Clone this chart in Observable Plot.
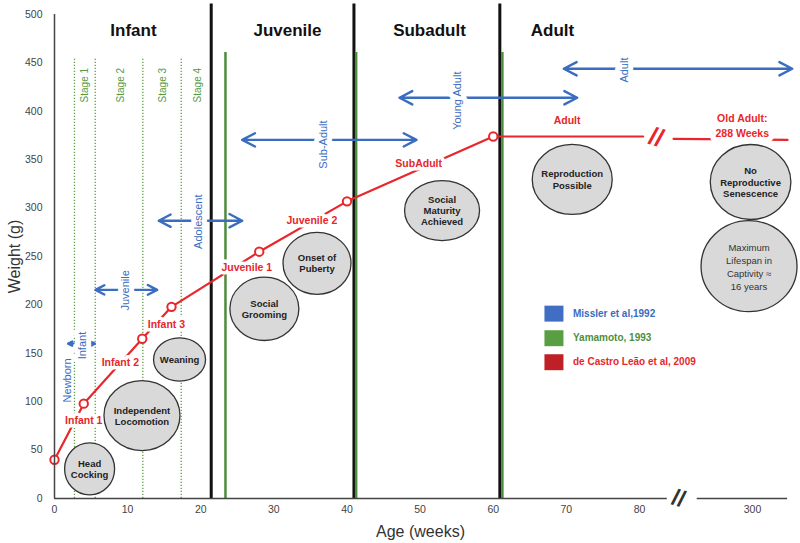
<!DOCTYPE html>
<html><head><meta charset="utf-8">
<script src="https://cdn.jsdelivr.net/npm/d3@7"></script>
<script src="https://cdn.jsdelivr.net/npm/@observablehq/plot@0.6"></script>
<style>body{margin:0;background:#fff}</style>
</head><body><div id="chart"></div>
<script>
// ---------- data ----------
const xTicks = [0, 10, 20, 30, 40, 50, 60, 70, 80, 300];
const yTicks = [0, 50, 100, 150, 200, 250, 300, 350, 400, 450, 500];

const phaseNames = ["Infant", "Juvenile", "Subadult", "Adult"];
const phaseWeeks = [10.8, 31.86, 51.28, 68.1];
const phaseBoundaryWeeks = [21.43, 40.95, 60.9];

// Yamamoto, 1993
const yamamotoBoundaryWeeks = [23.38, 41.25, 61.25];
const stageBoundaryWeeks = [2.73, 5.57, 12.08, 17.33];
const stageNames = ["Stage 1", "Stage 2", "Stage 3", "Stage 4"];
const stageLabelWeeks = [4.1, 9.03, 14.77, 19.56];

// Missler et al, 1992
const misslerLabels = ["Infant", "Juvenile", "Adolescent", "Sub-Adult", "Young Adult", "Adult"];
const misslerStart = [1.87, 5.6, 14.26, 25.67, 47.18, 69.65];
const misslerEnd = [5.51, 14.04, 25.67, 49.5, 71.48, 346.4];
const misslerWeight = [160, 215.5, 287, 370.5, 414, 444];
const misslerLabelWeek = [3.79, 9.71, 19.73, 36.83, 55.07, 77.95];
const misslerLabelWeight = [158, 215, 286, 365.7, 411, 442.6];
const newbornLabel = ["Newborn"];
const newbornWeek = [1.74];
const newbornWeight = [122];

// de Castro Leão et al, 2009
const castroWeeks = [0, 4, 12, 16, 28, 40, 60];
const castroWeights = [40, 98, 165, 198, 255, 307, 374];
const adultWeeks = [60, 80.5];
const adultWeights = [374, 374];
const oldAdultWeeks = [207.6, 341];
const oldAdultWeights = [371.6, 370.6];
const castroLabels = ["Infant 1", "Infant 2", "Infant 3", "Juvenile 1", "Juvenile 2", "SubAdult", "Adult"];
const castroLabelWeeks = [4.0, 9.0, 15.3, 26.3, 35.2, 49.8, 70.1];
const castroLabelWeights = [80, 140, 180, 239, 287, 346, 390.5];
const oldAdultLabel = ["Old Adult:\n288 Weeks"];
const oldAdultLabelWeek = [288];
const oldAdultLabelWeight = [386];

// milestones
const milestoneLabels = ["Head\nCocking", "Independent\nLocomotion", "Weaning", "Social\nGrooming", "Onset of\nPuberty",
  "Social\nMaturity\nAchieved", "Reproduction\nPossible", "No\nReproductive\nSenescence", "Maximum\nLifespan in\nCaptivity \u2248\n16 years"];
const milestoneWeeks = [4.8, 11.96, 17.1, 28.7, 35.9, 53.0, 70.8, 297.7, 295.9];
const milestoneWeights = [30.6, 85.7, 143.6, 196, 243, 297.5, 329.6, 327, 240];

// legend
const sourceNames = ["Missler et al,1992", "Yamamoto, 1993", "de Castro Le\u00e3o et al, 2009"];
const legendWeights = [191, 165.6, 140.8];

// ---------- styles ----------
const font = "'Liberation Sans', Arial, Helvetica, sans-serif";
const blue = "#3a6cc0", green = "#4d8b3d", greenDot = "#5fa046", red = "#e8262b";
const squareColors = ["#3f6ec2", "#5a9e43", "#be2026"];
const textColors = [blue, "#4e8f3a", red];
const milestoneRx = [25, 38, 26, 34.5, 34, 37.5, 40, 40.3, 48];
const milestoneRy = [26, 35, 21.7, 31.7, 31, 30, 35, 37.5, 45.5];

const ellipseSymbol = k => ({
  draw(ctx, size) {
    const rx = Math.sqrt(size / Math.PI), ry = rx * k, c = 0.5523;
    ctx.moveTo(rx, 0);
    ctx.bezierCurveTo(rx, ry * c, rx * c, ry, 0, ry);
    ctx.bezierCurveTo(-rx * c, ry, -rx, ry * c, -rx, 0);
    ctx.bezierCurveTo(-rx, -ry * c, -rx * c, -ry, 0, -ry);
    ctx.bezierCurveTo(rx * c, -ry, rx, -ry * c, rx, 0);
    ctx.closePath();
  }
});
const rectSymbol = {
  draw(ctx, size) {
    const r = Math.sqrt(size / Math.PI);
    ctx.rect(-r, -r * 0.84, 2 * r, 2 * r * 0.84);
  }
};

const idx = a => a.map((_, i) => i);

const marks = [
  // Yamamoto stage dotted lines
  Plot.ruleX(stageBoundaryWeeks, {x: d => d, y1: 0, y2: 455.6, stroke: greenDot, strokeWidth: 1.3, strokeDasharray: "1.3,1.7"}),
  // phase boundaries
  Plot.ruleX(phaseBoundaryWeeks, {x: d => d, y1: 0, y2: 511, stroke: "#111", strokeWidth: 3}),
  Plot.ruleX(yamamotoBoundaryWeeks, {x: d => d, y1: 0, y2: 460.7, stroke: green, strokeWidth: 2.5}),
  Plot.text(stageNames, {x: (d, i) => stageLabelWeeks[i], y: () => 427, text: d => d, rotate: -90, fill: "#569a3f", fontSize: 10}),
  Plot.text(phaseNames, {x: (d, i) => phaseWeeks[i], y: () => 483, text: d => d, fontSize: 17, fontWeight: "bold", fill: "#111"}),

  // Missler arrows
  Plot.arrow(idx(misslerLabels), {x1: i => misslerLabelWeek[i], x2: i => misslerStart[i], y1: i => misslerWeight[i], y2: i => misslerWeight[i],
    stroke: blue, strokeWidth: 2.4, headLength: 9, headAngle: 55}),
  Plot.arrow(idx(misslerLabels), {x1: i => misslerLabelWeek[i], x2: i => misslerEnd[i], y1: i => misslerWeight[i], y2: i => misslerWeight[i],
    stroke: blue, strokeWidth: 2.4, headLength: 9, headAngle: 55}),
  Plot.text(misslerLabels, {x: (d, i) => misslerLabelWeek[i], y: (d, i) => misslerLabelWeight[i], text: d => d, rotate: -90,
    fill: blue, fontSize: 11, stroke: "white", strokeWidth: 10}),
  Plot.text(newbornLabel, {x: (d, i) => newbornWeek[i], y: (d, i) => newbornWeight[i], text: d => d, rotate: -90, fill: blue, fontSize: 11}),

  // de Castro Leão trajectory
  Plot.line(idx(castroWeeks), {x: i => castroWeeks[i], y: i => castroWeights[i], stroke: red, strokeWidth: 2.2}),
  Plot.line(idx(adultWeeks), {x: i => adultWeeks[i], y: i => adultWeights[i], stroke: red, strokeWidth: 2.2}),
  Plot.line(idx(oldAdultWeeks), {x: i => oldAdultWeeks[i], y: i => oldAdultWeights[i], stroke: red, strokeWidth: 2.2}),
  Plot.text(["//"], {x: () => 82.3, y: () => 373, text: d => d, fill: red, fontSize: 25, fontWeight: "bold", rotate: 18}),
  Plot.text(castroLabels, {x: (d, i) => castroLabelWeeks[i], y: (d, i) => castroLabelWeights[i], text: d => d,
    fill: red, fontSize: 10.5, fontWeight: "bold", stroke: "white", strokeWidth: 7}),
  Plot.text(oldAdultLabel, {x: (d, i) => oldAdultLabelWeek[i], y: (d, i) => oldAdultLabelWeight[i], text: d => d,
    fill: red, fontSize: 10.5, fontWeight: "bold", lineHeight: 1.4, stroke: "white", strokeWidth: 11}),
  Plot.dot(idx(castroWeeks), {x: i => castroWeeks[i], y: i => castroWeights[i], r: 4.2, stroke: red, strokeWidth: 2, fill: "white"}),

  // milestone ellipses
  ...milestoneLabels.map((m, i) => Plot.dot([i], {x: j => milestoneWeeks[j], y: j => milestoneWeights[j], r: milestoneRx[i],
    symbol: ellipseSymbol(milestoneRy[i] / milestoneRx[i]), fill: "#d9d9d9", stroke: "#333", strokeWidth: 1.3})),
  Plot.text(idx(milestoneLabels).slice(0, 8), {x: i => milestoneWeeks[i], y: i => milestoneWeights[i], text: i => milestoneLabels[i],
    fontSize: 9.5, fontWeight: "bold", fill: "#222", lineHeight: 1.18}),
  Plot.text([8], {x: i => milestoneWeeks[i], y: i => milestoneWeights[i], text: i => milestoneLabels[i],
    fontSize: 9.5, fill: "#333", lineHeight: 1.38}),

  // legend
  ...sourceNames.map((s, i) => Plot.dot([i], {x: () => 68.3, y: j => legendWeights[j], r: 9.5, symbol: rectSymbol, fill: squareColors[i]})),
  ...sourceNames.map((s, i) => Plot.text([i], {x: () => 70.9, y: j => legendWeights[j], text: j => sourceNames[j], textAnchor: "start",
    fill: textColors[i], fontSize: 10, fontWeight: "bold"})),

  // axes
  Plot.ruleX([0], {x: d => d, y1: 0, y2: 500, stroke: "#444", strokeWidth: 1.5}),
  Plot.ruleY([0], {y: d => d, x1: 0, x2: 83.8, stroke: "#444", strokeWidth: 1.5}),
  Plot.ruleY([0], {y: d => d, x1: 235.3, x2: 341, stroke: "#444", strokeWidth: 1.5}),
  Plot.text(["//"], {x: () => 213.5, y: () => 0, text: d => d, fill: "#333", fontSize: 23, fontWeight: "bold", rotate: 16}),
  Plot.axisY({ticks: yTicks, tickSize: 0, tickPadding: 12, fontSize: 10.5, color: "#444", label: null, tickFormat: d => String(d)}),
  Plot.axisX({ticks: xTicks, tickSize: 0, tickPadding: 7, fontSize: 10.5, color: "#444", label: null, tickFormat: d => String(d)}),
  Plot.text(["Age (weeks)"], {x: () => 50.05, y: () => 0, dy: 33, text: d => d, fontSize: 16, fill: "#333"}),
  Plot.text(["Weight (g)"], {x: () => 0, y: () => 250, dx: -40, text: d => d, rotate: -90, fontSize: 16, fill: "#333"})
];

const chart = Plot.plot({
  width: 800,
  height: 543,
  marginTop: 3, marginBottom: 45, marginLeft: 54, marginRight: 5,
  style: {fontFamily: font, background: "white", overflow: "visible"},
  x: {type: "linear", domain: [0, 84, 205, 350], range: [54, 668.25, 670.8, 794.8]},
  y: {domain: [0, 511.4], range: [498, 3]},
  marks
});
document.getElementById("chart").appendChild(chart);
</script>
</body></html>
